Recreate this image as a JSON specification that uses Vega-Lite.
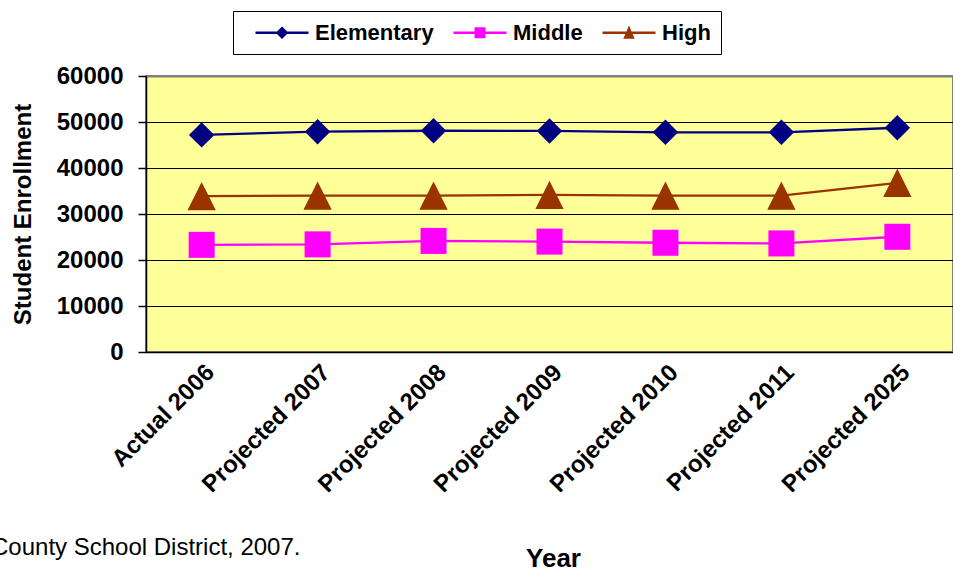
{
  "$schema": "https://vega.github.io/schema/vega-lite/v6.json",
  "width": 807,
  "height": 276,
  "autosize": {"type": "none"},
  "padding": {"left": 146, "top": 76, "right": 0, "bottom": 217},
  "background": "white",
  "config": {
    "font": "Liberation Sans",
    "view": {"stroke": "#808080", "strokeWidth": 2, "fill": "#FFFF99"}
  },
  "title": {
    "text": "County School District, 2007.",
    "orient": "bottom",
    "anchor": "start",
    "frame": "group",
    "font": "Liberation Sans",
    "fontSize": 24,
    "fontWeight": "normal",
    "color": "black",
    "baseline": "alphabetic",
    "dx": -155,
    "dy": -16,
    "offset": 0
  },
  "data": {
    "values": [
      {"level": "Elementary", "year": "Actual 2006", "enrollment": 47200},
      {"level": "Elementary", "year": "Projected 2007", "enrollment": 47900},
      {"level": "Elementary", "year": "Projected 2008", "enrollment": 48100},
      {"level": "Elementary", "year": "Projected 2009", "enrollment": 48050},
      {"level": "Elementary", "year": "Projected 2010", "enrollment": 47750},
      {"level": "Elementary", "year": "Projected 2011", "enrollment": 47750},
      {"level": "Elementary", "year": "Projected 2025", "enrollment": 48750},
      {"level": "Middle", "year": "Actual 2006", "enrollment": 23300},
      {"level": "Middle", "year": "Projected 2007", "enrollment": 23400},
      {"level": "Middle", "year": "Projected 2008", "enrollment": 24150},
      {"level": "Middle", "year": "Projected 2009", "enrollment": 24000},
      {"level": "Middle", "year": "Projected 2010", "enrollment": 23750},
      {"level": "Middle", "year": "Projected 2011", "enrollment": 23600},
      {"level": "Middle", "year": "Projected 2025", "enrollment": 25050},
      {"level": "High", "year": "Actual 2006", "enrollment": 33900},
      {"level": "High", "year": "Projected 2007", "enrollment": 34000},
      {"level": "High", "year": "Projected 2008", "enrollment": 34000},
      {"level": "High", "year": "Projected 2009", "enrollment": 34150},
      {"level": "High", "year": "Projected 2010", "enrollment": 34000},
      {"level": "High", "year": "Projected 2011", "enrollment": 34000},
      {"level": "High", "year": "Projected 2025", "enrollment": 36750}
    ]
  },
  "encoding": {
    "x": {
      "field": "year",
      "type": "nominal",
      "sort": ["Actual 2006", "Projected 2007", "Projected 2008", "Projected 2009", "Projected 2010", "Projected 2011", "Projected 2025"],
      "scale": {"type": "point", "padding": 0.48},
      "axis": {
        "title": "Year",
        "titleFont": "Liberation Sans",
        "titleFontSize": 26,
        "titleFontWeight": "bold",
        "titleColor": "black",
        "titleX": 407,
        "titleY": 214,
        "titleAlign": "center",
        "titleBaseline": "alphabetic",
        "labelAngle": -45,
        "labelFont": "Liberation Sans",
        "labelFontSize": 24,
        "labelFontWeight": "bold",
        "labelColor": "black",
        "labelPadding": 8,
        "labelLimit": 400,
        "ticks": false,
        "domainColor": "black",
        "domainWidth": 1.5,
        "grid": false
      }
    },
    "y": {
      "field": "enrollment",
      "type": "quantitative",
      "scale": {"domain": [0, 60000], "nice": false},
      "axis": {
        "title": "Student Enrollment",
        "titleFont": "Liberation Sans",
        "titleFontSize": 24,
        "titleFontWeight": "bold",
        "titleColor": "black",
        "titlePadding": 21,
        "values": [0, 10000, 20000, 30000, 40000, 50000, 60000],
        "format": "d",
        "labelFont": "Liberation Sans",
        "labelFontSize": 24,
        "labelFontWeight": "bold",
        "labelColor": "black",
        "labelPadding": 15,
        "tickSize": 8,
        "tickColor": "black",
        "tickWidth": 1.5,
        "domainColor": "black",
        "domainWidth": 1.5,
        "grid": true,
        "gridColor": {"condition": {"test": "datum.value === 60000", "value": "#808080"}, "value": "black"},
        "gridWidth": {"condition": {"test": "datum.value === 60000", "value": 2}, "value": 1.2},
        "gridOpacity": 1
      }
    },
    "color": {
      "field": "level",
      "type": "nominal",
      "scale": {"domain": ["Elementary", "Middle", "High"], "range": ["#000080", "#FF00FF", "#993300"]},
      "legend": {
        "title": null,
        "orient": "none",
        "legendX": 87,
        "legendY": -65,
        "direction": "horizontal",
        "columns": 3,
        "fillColor": "white",
        "strokeColor": "black",
        "padding": 10,
        "columnPadding": 7,
        "labelFont": "Liberation Sans",
        "labelFontSize": 22,
        "labelFontWeight": "bold",
        "labelColor": "black",
        "labelOffset": 21.5,
        "symbolOffset": 27.5,
        "symbolSize": 400,
        "symbolStrokeWidth": 2.5,
        "encode": {
          "symbols": {
            "update": {
              "shape": {"signal": "datum.value === 'Elementary' ? 'M-2.65,0H2.65M0,-0.45L0.45,0L0,0.45L-0.45,0Z' : datum.value === 'Middle' ? 'M-2.65,0H2.65M-0.42,-0.42H0.42V0.42H-0.42Z' : 'M-2.65,0H2.65M0,-0.4L0.38,0.48H-0.38Z'"},
              "size": {"value": 400},
              "fill": {"scale": "color", "field": "value"},
              "stroke": {"scale": "color", "field": "value"},
              "strokeWidth": {"value": 2.5},
              "opacity": {"value": 1},
              "fillOpacity": {"value": 1},
              "strokeOpacity": {"value": 1}
            }
          }
        }
      }
    }
  },
  "layer": [
    {"mark": {"type": "line", "strokeWidth": 2.3}},
    {
      "mark": {"type": "point", "filled": true, "opacity": 1, "size": 800, "strokeWidth": 0},
      "encoding": {
        "shape": {
          "condition": [
            {"test": "datum.level === 'Elementary'", "value": "M0,-0.9L0.9,0L0,0.9L-0.9,0Z"},
            {"test": "datum.level === 'Middle'", "value": "M-0.92,-0.92H0.92V0.92H-0.92Z"}
          ],
          "value": "M0,-1L1,1H-1Z"
        }
      }
    }
  ]
}
